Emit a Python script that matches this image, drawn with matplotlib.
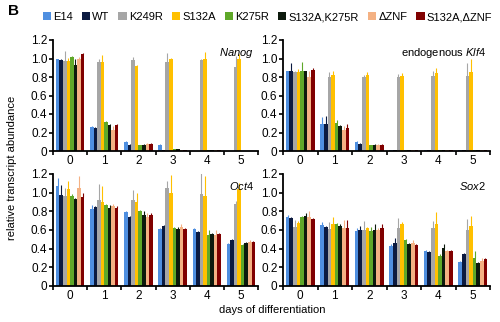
import numpy as np
import matplotlib.pyplot as plt

plt.rcParams['font.family'] = ['Liberation Sans', 'DejaVu Sans']
plt.rcParams['mathtext.fontset'] = 'custom'
plt.rcParams['mathtext.it'] = 'Liberation Sans:italic'
plt.rcParams['mathtext.rm'] = 'Liberation Sans'

# Data
days = [0, 1, 2, 3, 4, 5]
lines = ['E14', 'WT', 'K249R', 'S132A', 'K275R', 'S132A,K275R', '\u0394ZNF', 'S132A,\u0394ZNF']
colors = ['#4f8fe0', '#0b1a40', '#a6a6a6', '#ffc000', '#5fa829', '#0d1a0d', '#f4b183', '#800000']

# mean values, rows = cell line, cols = day
nanog = [
    [0.99, 0.26, 0.10, 0.07, 0.00, 0.00],
    [0.98, 0.25, 0.07, 0.01, 0.00, 0.00],
    [0.97, 0.96, 0.98, 0.96, 0.98, 0.91],
    [0.97, 0.96, 0.92, 1.00, 1.00, 1.00],
    [1.02, 0.31, 0.06, 0.02, 0.01, 0.00],
    [0.93, 0.28, 0.07, 0.02, 0.01, 0.00],
    [1.00, 0.23, 0.08, 0.01, 0.01, 0.00],
    [1.05, 0.28, 0.08, 0.01, 0.01, 0.00],
]
nanog_err = [
    [0.01, 0.01, 0.01, 0.01, 0.00, 0.00],
    [0.01, 0.01, 0.01, 0.00, 0.00, 0.00],
    [0.11, 0.04, 0.04, 0.10, 0.01, 0.12],
    [0.04, 0.08, 0.01, 0.01, 0.07, 0.05],
    [0.01, 0.01, 0.01, 0.00, 0.00, 0.00],
    [0.06, 0.01, 0.01, 0.00, 0.00, 0.00],
    [0.02, 0.04, 0.01, 0.00, 0.00, 0.00],
    [0.01, 0.01, 0.01, 0.00, 0.00, 0.00],
]

klf4 = [
    [0.86, 0.29, 0.10, 0.01, 0.01, 0.01],
    [0.86, 0.29, 0.08, 0.01, 0.01, 0.01],
    [0.85, 0.80, 0.80, 0.80, 0.81, 0.81],
    [0.85, 0.82, 0.82, 0.81, 0.84, 0.85],
    [0.86, 0.30, 0.06, 0.01, 0.01, 0.01],
    [0.86, 0.27, 0.07, 0.01, 0.01, 0.01],
    [0.80, 0.23, 0.07, 0.01, 0.01, 0.01],
    [0.88, 0.25, 0.07, 0.01, 0.01, 0.01],
]
klf4_err = [
    [0.01, 0.08, 0.01, 0.00, 0.00, 0.00],
    [0.09, 0.09, 0.01, 0.00, 0.00, 0.00],
    [0.02, 0.05, 0.02, 0.03, 0.06, 0.14],
    [0.04, 0.04, 0.03, 0.03, 0.06, 0.14],
    [0.10, 0.04, 0.01, 0.00, 0.00, 0.00],
    [0.01, 0.01, 0.01, 0.00, 0.00, 0.00],
    [0.06, 0.04, 0.01, 0.00, 0.00, 0.00],
    [0.02, 0.04, 0.01, 0.00, 0.00, 0.00],
]

oct4 = [
    [1.07, 0.82, 0.79, 0.61, 0.61, 0.45],
    [0.98, 0.85, 0.74, 0.64, 0.58, 0.49],
    [0.96, 0.92, 0.92, 1.05, 0.99, 0.88],
    [1.04, 0.90, 0.90, 1.00, 0.96, 1.04],
    [0.96, 0.87, 0.80, 0.62, 0.55, 0.44],
    [0.93, 0.84, 0.76, 0.61, 0.56, 0.46],
    [1.05, 0.86, 0.74, 0.63, 0.55, 0.47],
    [0.95, 0.84, 0.76, 0.61, 0.56, 0.47],
]
oct4_err = [
    [0.09, 0.05, 0.01, 0.01, 0.01, 0.01],
    [0.10, 0.01, 0.01, 0.01, 0.01, 0.01],
    [0.09, 0.17, 0.11, 0.08, 0.22, 0.03],
    [0.09, 0.17, 0.10, 0.19, 0.22, 0.06],
    [0.03, 0.01, 0.01, 0.01, 0.05, 0.01],
    [0.01, 0.03, 0.04, 0.02, 0.01, 0.01],
    [0.13, 0.02, 0.04, 0.03, 0.05, 0.02],
    [0.05, 0.02, 0.02, 0.01, 0.01, 0.01],
]

sox2 = [
    [0.74, 0.65, 0.59, 0.43, 0.38, 0.26],
    [0.73, 0.63, 0.60, 0.46, 0.36, 0.34],
    [0.63, 0.61, 0.60, 0.62, 0.62, 0.60],
    [0.68, 0.66, 0.62, 0.66, 0.66, 0.64],
    [0.74, 0.66, 0.59, 0.49, 0.32, 0.30],
    [0.75, 0.64, 0.60, 0.45, 0.41, 0.25],
    [0.74, 0.62, 0.60, 0.46, 0.38, 0.27],
    [0.72, 0.62, 0.62, 0.44, 0.38, 0.29],
]
sox2_err = [
    [0.02, 0.04, 0.03, 0.02, 0.01, 0.01],
    [0.01, 0.01, 0.04, 0.05, 0.01, 0.01],
    [0.08, 0.08, 0.10, 0.11, 0.08, 0.12],
    [0.02, 0.08, 0.01, 0.03, 0.13, 0.11],
    [0.01, 0.02, 0.04, 0.01, 0.02, 0.07],
    [0.03, 0.02, 0.06, 0.01, 0.04, 0.01],
    [0.06, 0.09, 0.02, 0.03, 0.01, 0.03],
    [0.01, 0.09, 0.04, 0.01, 0.01, 0.01],
]

panels = [
    (nanog, nanog_err, r'$\mathit{Nanog}$'),
    (klf4, klf4_err, r'endogenous $\mathit{Klf4}$'),
    (oct4, oct4_err, r'$\mathit{Oct4}$'),
    (sox2, sox2_err, r'$\mathit{Sox2}$'),
]

fig = plt.figure(figsize=(5.0, 3.22), dpi=100)
W, H = 500.0, 322.0
boxes = [(53, 40, 205, 111), (283, 40, 207, 111), (53, 174, 205, 112), (283, 174, 207, 112)]

bw = 0.104
x = np.arange(len(days))
handles = []
for (vals, errs, title), (l, t, w, h) in zip(panels, boxes):
    ax = fig.add_axes([l / W, 1 - (t + h) / H, w / W, h / H])
    for i, name in enumerate(lines):
        pos = x + (i - 3.5) * bw
        b = ax.bar(pos, vals[i], width=bw, color=colors[i], linewidth=0, label=name)
        ax.errorbar(pos, vals[i], yerr=[np.zeros(len(days)), errs[i]], fmt='none',
                    ecolor=colors[i], elinewidth=0.8, capsize=0)
        if len(handles) < len(lines):
            handles.append(b)
    ax.set_xlim(-0.5, 5.5)
    ax.set_ylim(0, 1.2)
    ax.set_yticks([0, 0.2, 0.4, 0.6, 0.8, 1.0, 1.2])
    ax.set_yticklabels(['0', '0.2', '0.4', '0.6', '0.8', '1.0', '1.2'])
    ax.set_xticks(x)
    ax.set_xticklabels([str(d) for d in days])
    ax.set_xticks(np.arange(-0.5, 6, 1), minor=True)
    ax.tick_params(axis='x', which='major', length=0, labelsize=8.5, pad=3)
    ax.tick_params(axis='x', which='minor', length=3, width=1.2, direction='out')
    ax.tick_params(axis='y', length=3, width=1.2, labelsize=8.5, pad=1)
    for s in ['top', 'right']:
        ax.spines[s].set_visible(False)
    for s in ['left', 'bottom']:
        ax.spines[s].set_linewidth(1.3)
    ax.text(0.98, 0.95, title, transform=ax.transAxes, ha='right', va='top', fontsize=8)

fig.legend(handles, lines, ncol=8, loc='center', bbox_to_anchor=(0.535, 0.947),
           frameon=False, handlelength=0.75, handleheight=0.75, handletextpad=0.2,
           columnspacing=0.8, fontsize=8, borderaxespad=0)

fig.text(8 / W, 1 - 11 / H, 'B', fontsize=11, fontweight='bold', va='center')
fig.text(12 / W, 1 - 168 / H, 'relative transcript abundance', rotation=90,
         ha='center', va='center', fontsize=8)
fig.text(272 / W, 1 - 310 / H, 'days of differentiation', ha='center', va='center', fontsize=8)

fig.savefig('out.png', dpi=100)
